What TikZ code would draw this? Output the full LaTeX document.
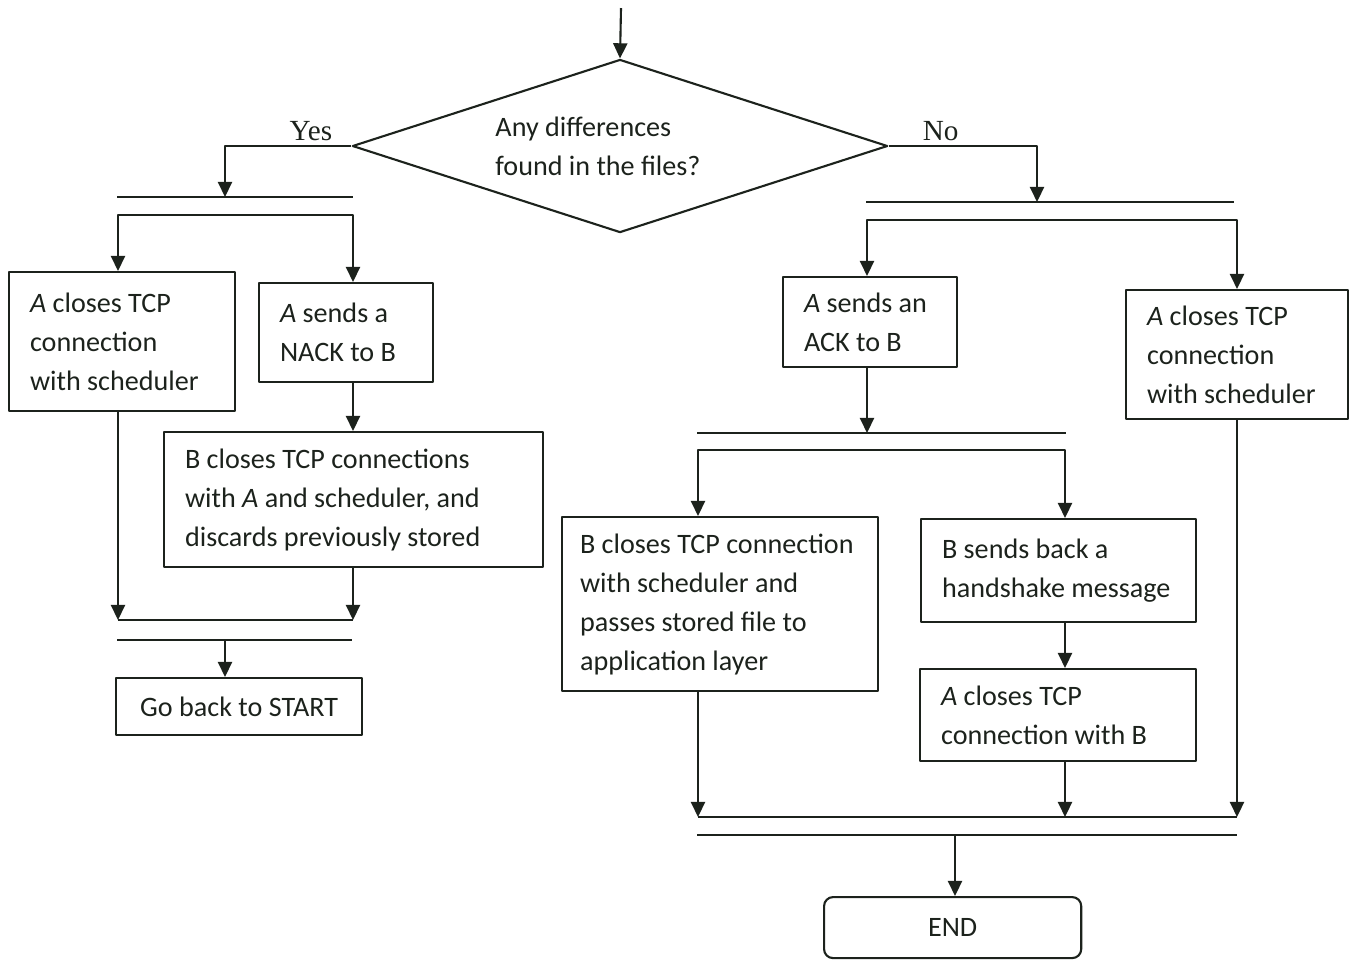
\documentclass[tikz,border=0pt]{standalone}
\usepackage{fontspec}
\setmainfont{Carlito}
\newfontfamily\ynfont{Liberation Serif}
\usetikzlibrary{arrows.meta,shapes.geometric}
\definecolor{inkc}{RGB}{28,34,28}
\begin{document}
\begin{tikzpicture}[x=0.01cm, y=-0.01cm, line width=0.6pt, line join=round, color=inkc,
	font=\fontsize{8}{11.1}\selectfont, >={Triangle[length=4.3pt,width=4pt]}]
	\tikzset{stepbox/.style={draw, rectangle, anchor=north west, align=flush left, inner xsep=0.21cm, inner ysep=0pt},
		endbox/.style={draw, rectangle, rounded corners=0.09cm, anchor=north west, inner sep=0pt},
		yn/.style={font=\ynfont\fontsize{8.3}{10}\selectfont, above, inner sep=1.2pt}}
	\useasboundingbox (0,0) rectangle (1349,959);
	% columns of the connectors
	\coordinate (cL0) at (225,0); \coordinate (cL1) at (118,0); \coordinate (cL2) at (353,0);
	\coordinate (cR0) at (1037,0); \coordinate (cR1) at (867,0); \coordinate (cR2) at (698,0);
	\coordinate (cR3) at (1065,0); \coordinate (cR4) at (1237,0); \coordinate (cR5) at (955,0);
	% decision
	\coordinate (top) at (621,8);
	\node[draw, diamond, minimum width=5.35cm, minimum height=1.73cm, inner sep=0pt] (dec) at (620,146) {};
	\node[align=left] (dectext) at (598,146) {Any differences\\found in the files?};
	\draw[->] (top) -- (dec.north);
	% Yes branch
	\node[stepbox, text width=1.84cm, minimum height=1.39cm] (box1) at (8,271) {\textit{A} closes TCP\\connection\\with scheduler};
	\node[stepbox, text width=1.32cm, minimum height=0.99cm] (box2) at (258,282) {\textit{A} sends a\\NACK to B};
	\node[stepbox, text width=3.37cm, minimum height=1.35cm] (box3) at (163,431) {B closes TCP connections\\with \textit{A} and scheduler, and\\discards previously stored};
	\node[stepbox, align=center, minimum width=2.46cm, minimum height=0.57cm, inner xsep=0pt] (back) at (115,677) {Go back to START};
	\coordinate (b1a) at (117,197); \coordinate (b1b) at (353,197);
	\coordinate (f1) at (236,215);
	\coordinate (j1) at (236,620);
	\coordinate (b2a) at (117,640); \coordinate (b2b) at (352,640);
	\draw[->] (dec.west) -| (cL0 |- b1a) node[yn, pos=0.16] {Yes};
	\draw (b1a) -- (b1b);
	\draw[->] (f1) -| (cL1 |- box1.north);
	\draw[->] (f1) -| (cL2 |- box2.north);
	\draw[->] (cL2 |- box2.south) -- (cL2 |- box3.north);
	\draw[->] (cL1 |- box1.south) -- (cL1 |- j1);
	\draw[->] (cL2 |- box3.south) -- (cL2 |- j1);
	\draw (cL1 |- j1) -- (cL2 |- j1);
	\draw (b2a) -- (b2b);
	\draw[->] (cL0 |- b2a) -- (cL0 |- back.north);
	% No branch
	\node[stepbox, text width=1.32cm, minimum height=0.90cm] (box4) at (782,276) {\textit{A} sends an\\ACK to B};
	\node[stepbox, text width=1.80cm, minimum height=1.29cm] (box5) at (1125,289) {\textit{A} closes TCP\\connection\\with scheduler};
	\node[stepbox, text width=2.80cm, minimum height=1.74cm, inner xsep=0.18cm] (box6) at (561,516) {B closes TCP connection\\with scheduler and\\passes stored file to\\application layer};
	\node[stepbox, text width=2.33cm, minimum height=1.03cm] (box7) at (920,518) {B sends back a\\handshake message};
	\node[stepbox, text width=2.34cm, minimum height=0.92cm] (box8) at (919,668) {\textit{A} closes TCP\\connection with B};
	\node[endbox, minimum width=2.57cm, minimum height=0.61cm] (end) at (823,896) {END};
	\coordinate (b3a) at (866,202); \coordinate (b3b) at (1234,202);
	\coordinate (f2) at (1050,220);
	\coordinate (b4a) at (697,433); \coordinate (b4b) at (1066,433);
	\coordinate (f3) at (880,450);
	\coordinate (j2) at (960,817);
	\coordinate (b5a) at (697,835); \coordinate (b5b) at (1237,835);
	\draw[->] (dec.east) -| (cR0 |- b3a) node[yn, pos=0.175] {No};
	\draw (b3a) -- (b3b);
	\draw[->] (f2) -| (cR1 |- box4.north);
	\draw[->] (f2) -| (cR4 |- box5.north);
	\draw[->] (cR1 |- box4.south) -- (cR1 |- b4a);
	\draw (b4a) -- (b4b);
	\draw[->] (f3) -| (cR2 |- box6.north);
	\draw[->] (f3) -| (cR3 |- box7.north);
	\draw[->] (cR3 |- box7.south) -- (cR3 |- box8.north);
	\draw[->] (cR2 |- box6.south) -- (cR2 |- j2);
	\draw[->] (cR3 |- box8.south) -- (cR3 |- j2);
	\draw[->] (cR4 |- box5.south) -- (cR4 |- j2);
	\draw (cR2 |- j2) -- (cR4 |- j2);
	\draw (b5a) -- (b5b);
	\draw[->] (cR5 |- b5a) -- (cR5 |- end.north);
\end{tikzpicture}
\end{document}
